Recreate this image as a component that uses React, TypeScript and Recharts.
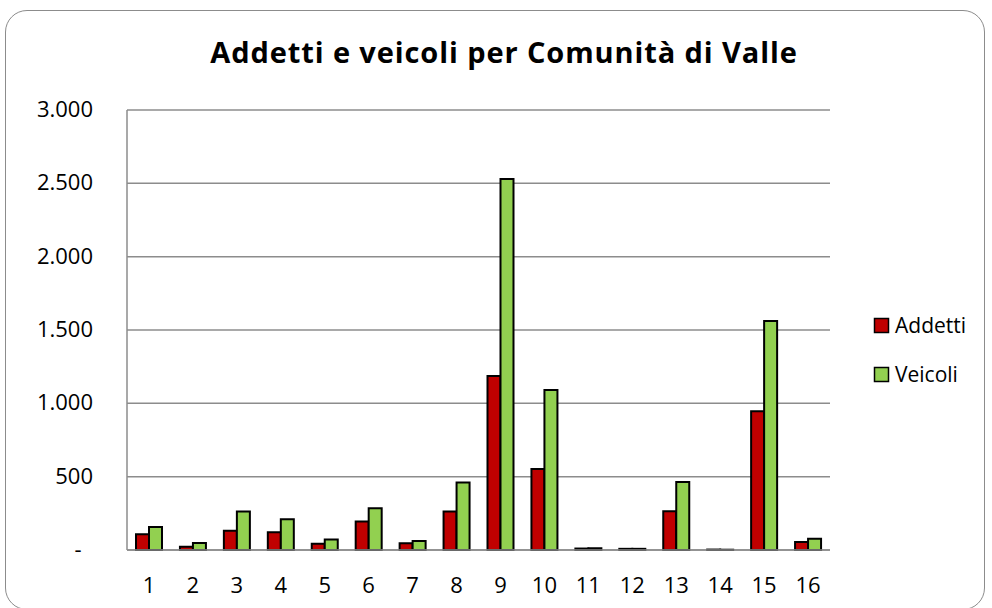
import React from "react";
import { BarChart, Bar, XAxis, YAxis, CartesianGrid } from "recharts";

const categories = ["1","2","3","4","5","6","7","8","9","10","11","12","13","14","15","16"];
const addetti = [107, 23, 132, 121, 43, 194, 46, 262, 1186, 552, 10, 8, 264, 3, 946, 55];
const veicoli = [157, 48, 262, 210, 71, 285, 62, 461, 2530, 1091, 12, 8, 464, 2, 1561, 77];
const yTicks = [0, 500, 1000, 1500, 2000, 2500, 3000];

const data = categories.map((c, i) => ({ cat: c, Addetti: addetti[i], Veicoli: veicoli[i] }));

const FONT = "'Open Sans', 'Noto Sans', sans-serif";

const fmt = (v: number) => (v === 0 ? "-" : v.toLocaleString("de-DE"));

const YTick = (props: any) => {
  const { y, payload } = props;
  const v = payload.value;
  if (v === 0) {
    return (
      <text x={78} y={y} dy={7} textAnchor="middle" fontSize={22} fill="#000" fontFamily={FONT}>-</text>
    );
  }
  return (
    <text x={93} y={y} dy={7} textAnchor="end" fontSize={22} fill="#000" fontFamily={FONT}>
      {fmt(v)}
    </text>
  );
};

const XTick = (props: any) => {
  const { x, payload } = props;
  return (
    <text x={x} y={593} textAnchor="middle" fontSize={22} fill="#000" fontFamily={FONT}>
      {payload.value}
    </text>
  );
};

export default function App() {
  return (
    <div style={{ position: "absolute", left: 0, top: 0, width: 992, height: 608, background: "#fff", fontFamily: FONT }}>
      <div
        style={{
          position: "absolute",
          left: 5,
          top: 10,
          width: 980,
          height: 600,
          border: "1.5px solid #8c8c8c",
          borderRadius: 22,
          boxSizing: "border-box",
        }}
      />
      <svg style={{ position: "absolute", left: 0, top: 0 }} width={992} height={100}>
        <text x={504} y={63} textAnchor="middle" fontSize={29} fontWeight="bold" letterSpacing={0.9} fill="#000" fontFamily={FONT}>
          Addetti e veicoli per Comunità di Valle
        </text>
      </svg>
      <div style={{ position: "absolute", left: 0, top: 0 }}>
        <BarChart
          width={992}
          height={608}
          data={data}
          margin={{ top: 110, right: 162, bottom: 0, left: 0 }}
          barGap={0}
          barSize={13}
        >
          <CartesianGrid vertical={false} stroke="#8c8c8c" strokeWidth={1.5} />
          <XAxis
            dataKey="cat"
            tick={<XTick />}
            tickLine={false}
            axisLine={{ stroke: "#8c8c8c", strokeWidth: 1.5 }}
            height={58}
            interval={0}
          />
          <YAxis
            domain={[0, 3000]}
            ticks={yTicks}
            tick={<YTick />}
            tickLine={false}
            axisLine={{ stroke: "#8c8c8c", strokeWidth: 1.5 }}
            width={127}
            interval={0}
          />
          <Bar dataKey="Addetti" fill="#C00000" stroke="#000" strokeWidth={2} isAnimationActive={false} />
          <Bar dataKey="Veicoli" fill="#92D050" stroke="#000" strokeWidth={2} isAnimationActive={false} />
        </BarChart>
      </div>
      <svg style={{ position: "absolute", left: 0, top: 0 }} width={992} height={608} pointerEvents="none">
        <rect x={874.5} y={318.5} width={14} height={14} fill="#C00000" stroke="#000" strokeWidth={1.5} />
        <text x={895} y={333} fontSize={21} fill="#000" fontFamily={FONT}>Addetti</text>
        <rect x={874.5} y={367.5} width={14} height={14} fill="#92D050" stroke="#000" strokeWidth={1.5} />
        <text x={895} y={382} fontSize={21} fill="#000" fontFamily={FONT}>Veicoli</text>
      </svg>
    </div>
  );
}
